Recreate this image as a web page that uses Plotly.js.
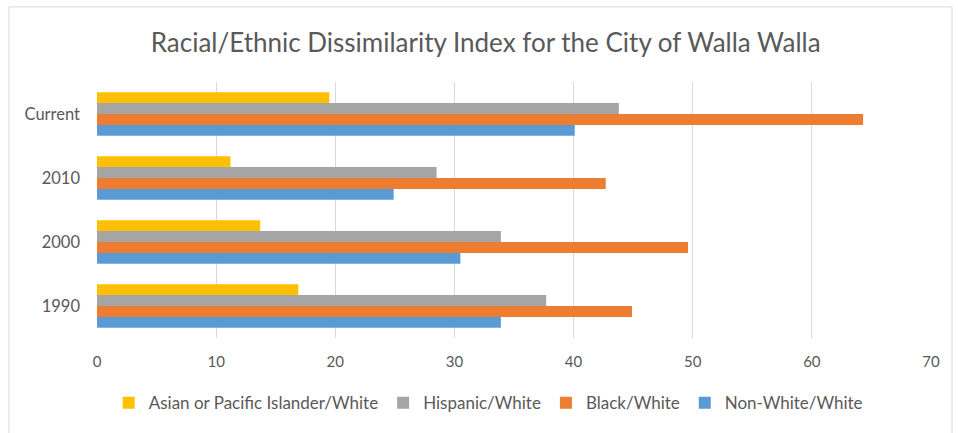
<!DOCTYPE html>
<html>
<head>
<meta charset="utf-8">
<script src="https://cdn.plot.ly/plotly-3.0.1.min.js"></script>
<style>
  html, body { margin: 0; padding: 0; background: #ffffff; }
  #chart { width: 958px; height: 433px; }
</style>
</head>
<body>
<div id="chart"></div>
<script>
// Census periods, bottom to top on the category axis
const periods = ['1990', '2000', '2010', 'Current'];

// Dissimilarity index values per pair of groups
const nonWhiteWhite = [33.9, 30.5, 24.9, 40.1];
const blackWhite    = [44.9, 49.6, 42.7, 64.3];
const hispanicWhite = [37.7, 33.9, 28.5, 43.8];
const asianWhite    = [16.9, 13.7, 11.2, 19.5];

const seriesNames = ['Non-White/White', 'Black/White', 'Hispanic/White', 'Asian or Pacific Islander/White'];
const seriesColors = ['#5B9BD5', '#ED7D31', '#A5A5A5', '#FFC000'];
const seriesValues = [nonWhiteWhite, blackWhite, hispanicWhite, asianWhite];

const xTicks = [0, 10, 20, 30, 40, 50, 60, 70];

const traces = seriesValues.map((vals, i) => ({
  type: 'bar',
  orientation: 'h',
  name: seriesNames[i],
  y: periods,
  x: vals,
  marker: { color: seriesColors[i], line: { width: 0 } },
  hoverinfo: 'x+name'
}));

const textGray = '#595959';
const gridGray = '#D9D9D9';

const layout = {
  width: 958,
  height: 433,
  margin: { l: 97, r: 27, t: 82, b: 92 },
  paper_bgcolor: '#ffffff',
  plot_bgcolor: '#ffffff',
  font: { family: 'Lato, "Open Sans", sans-serif', color: textGray, size: 15 },
  title: {
    text: 'Racial/Ethnic Dissimilarity Index for the City of Walla Walla',
    font: { family: 'Lato, "Open Sans", sans-serif', size: 26, color: textGray },
    xref: 'container', x: 0.507, xanchor: 'center',
    yref: 'container', y: 0.902, yanchor: 'middle'
  },
  barmode: 'group',
  bargap: 0.32,
  bargroupgap: 0,
  xaxis: {
    range: [0, 70],
    tickvals: xTicks,
    ticktext: xTicks.map(String),
    showgrid: true,
    gridcolor: gridGray,
    gridwidth: 1,
    zeroline: false,
    showline: false,
    ticks: '',
    ticklabelstandoff: 13,
    tickfont: { size: 15, color: textGray },
    fixedrange: true
  },
  yaxis: {
    type: 'category',
    categoryorder: 'array',
    categoryarray: periods,
    showgrid: false,
    zeroline: false,
    showline: false,
    ticks: '',
    ticklabelstandoff: 16,
    tickfont: { size: 16.5, color: textGray },
    fixedrange: true
  },
  showlegend: true,
  legend: {
    orientation: 'h',
    traceorder: 'reversed',
    x: 0.014, xanchor: 'left',
    y: -0.255, yanchor: 'middle',
    font: { size: 17, color: textGray },
    itemwidth: 30,
    bgcolor: 'rgba(0,0,0,0)'
  },
  shapes: [
    {
      type: 'rect', xref: 'paper', yref: 'paper',
      x0: -0.1055, x1: 1.0252, y0: -0.40, y1: 1.2934,
      line: { color: gridGray, width: 1 },
      fillcolor: 'rgba(0,0,0,0)',
      layer: 'below'
    }
  ]
};

Plotly.newPlot('chart', traces, layout, { displayModeBar: false, staticPlot: true });
</script>
</body>
</html>
